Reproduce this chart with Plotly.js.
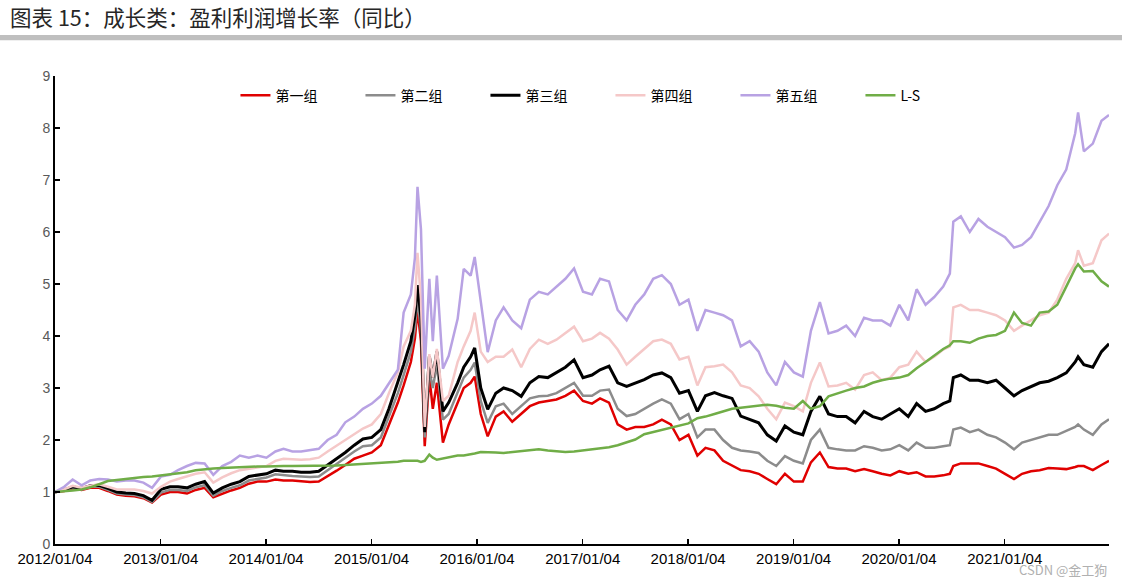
<!DOCTYPE html>
<html>
<head>
<meta charset="utf-8">
<script src="https://cdn.plot.ly/plotly-3.0.1.min.js"></script>
<style>
  body { margin: 0; background: #fff; }
  #grafico { width: 1122px; height: 585px; }
</style>
</head>
<body>
<div id="grafico"></div>
<script>
// fechas (aprox. mensual, más denso en 2015)
const fechas = [
  '2012-01-04','2012-02-05','2012-03-05','2012-04-05','2012-05-05','2012-06-05','2012-07-05','2012-08-05','2012-09-05','2012-10-05','2012-11-05','2012-12-05',
  '2013-01-05','2013-02-05','2013-03-05','2013-04-05','2013-05-05','2013-06-05','2013-07-05','2013-08-05','2013-09-05','2013-10-05','2013-11-05','2013-12-05',
  '2014-01-05','2014-02-05','2014-03-05','2014-04-05','2014-05-05','2014-06-05','2014-07-05','2014-08-05','2014-09-05','2014-10-05','2014-11-05','2014-12-05',
  '2015-01-05','2015-02-05','2015-03-05','2015-04-05','2015-04-25','2015-05-20','2015-06-03','2015-06-12','2015-06-24','2015-07-07','2015-07-23','2015-08-04','2015-08-18','2015-09-08','2015-09-28','2015-10-29','2015-11-19','2015-12-13','2015-12-27',
  '2016-01-17','2016-02-10','2016-03-09','2016-04-05','2016-05-05','2016-06-05','2016-07-05','2016-08-05','2016-09-05','2016-10-05','2016-11-05','2016-12-05',
  '2017-01-05','2017-02-05','2017-03-05','2017-04-05','2017-05-05','2017-06-05','2017-07-05','2017-08-05','2017-09-05','2017-10-05','2017-11-05','2017-12-05',
  '2018-01-05','2018-02-05','2018-03-05','2018-04-05','2018-05-05','2018-06-05','2018-07-05','2018-08-05','2018-09-05','2018-10-05','2018-11-05','2018-12-05',
  '2019-01-05','2019-02-05','2019-03-05','2019-04-05','2019-05-05','2019-06-05','2019-07-05','2019-08-05','2019-09-05','2019-10-05','2019-11-05','2019-12-05',
  '2020-01-05','2020-02-05','2020-03-05','2020-04-05','2020-05-05','2020-06-05','2020-06-28','2020-07-10','2020-08-05','2020-09-05','2020-10-05','2020-11-05','2020-12-05',
  '2021-01-05','2021-02-05','2021-03-05','2021-04-05','2021-05-05','2021-06-05','2021-07-05','2021-08-05','2021-09-05','2021-09-15','2021-10-05','2021-11-05','2021-12-05','2021-12-31'
];

const grupo1 = [
  1.0,1.02,1.07,1.04,1.08,1.08,1.02,0.95,0.93,0.92,0.88,0.80,
  0.95,1.0,1.0,0.97,1.04,1.08,0.9,0.97,1.03,1.08,1.16,1.2,
  1.2,1.24,1.22,1.22,1.2,1.19,1.2,1.3,1.41,1.52,1.64,1.7,
  1.76,1.9,2.3,2.72,3.05,3.5,3.95,4.5,3.9,1.88,3.22,2.6,3.1,1.95,2.3,2.72,3.0,3.1,3.22,
  2.5,2.07,2.45,2.55,2.35,2.5,2.65,2.72,2.75,2.78,2.85,2.95,
  2.75,2.7,2.8,2.72,2.3,2.2,2.25,2.25,2.3,2.39,2.3,2.0,
  2.1,1.7,1.85,1.8,1.6,1.5,1.42,1.4,1.35,1.25,1.15,1.35,
  1.2,1.2,1.57,1.76,1.48,1.45,1.45,1.4,1.44,1.4,1.35,1.32,
  1.4,1.35,1.38,1.3,1.3,1.32,1.35,1.5,1.55,1.55,1.55,1.5,1.45,
  1.35,1.25,1.35,1.4,1.42,1.46,1.45,1.44,1.48,1.5,1.5,1.42,1.52,1.6
];

const grupo2 = [
  1.0,1.03,1.08,1.05,1.1,1.1,1.04,0.97,0.95,0.94,0.9,0.81,
  0.99,1.04,1.04,1.02,1.09,1.13,0.93,1.02,1.08,1.13,1.22,1.25,
  1.28,1.34,1.32,1.31,1.3,1.29,1.3,1.42,1.55,1.66,1.78,1.88,
  1.9,2.05,2.45,2.9,3.25,3.7,4.15,4.72,4.1,2.05,3.35,3.0,3.45,2.39,2.5,2.9,3.2,3.35,3.49,
  2.75,2.33,2.65,2.7,2.5,2.65,2.8,2.84,2.85,2.9,3.0,3.1,
  2.85,2.85,2.95,2.97,2.6,2.46,2.5,2.6,2.7,2.78,2.7,2.4,
  2.5,2.05,2.2,2.2,2.0,1.85,1.8,1.78,1.75,1.6,1.5,1.69,
  1.6,1.55,2.0,2.2,1.85,1.82,1.8,1.8,1.88,1.85,1.8,1.82,
  1.9,1.8,1.95,1.85,1.85,1.88,1.9,2.2,2.24,2.15,2.2,2.1,2.05,
  1.95,1.82,1.95,2.0,2.05,2.1,2.1,2.17,2.25,2.3,2.2,2.1,2.3,2.4
];

const grupo3 = [
  1.0,1.04,1.1,1.07,1.12,1.13,1.07,1.0,0.98,0.97,0.93,0.84,
  1.05,1.1,1.1,1.08,1.15,1.2,0.98,1.08,1.15,1.2,1.3,1.32,
  1.35,1.42,1.4,1.4,1.38,1.38,1.4,1.52,1.64,1.76,1.9,2.02,
  2.05,2.2,2.6,3.1,3.45,3.9,4.4,4.98,4.35,2.15,3.61,3.2,3.7,2.55,2.72,3.1,3.4,3.6,3.77,
  3.0,2.59,2.9,3.0,2.95,2.84,3.1,3.22,3.2,3.3,3.4,3.54,
  3.2,3.25,3.35,3.42,3.1,3.03,3.1,3.16,3.25,3.29,3.2,2.9,
  2.95,2.55,2.85,2.91,2.85,2.8,2.46,2.4,2.33,2.1,1.98,2.27,
  2.15,2.1,2.55,2.84,2.5,2.45,2.45,2.33,2.55,2.45,2.4,2.5,
  2.6,2.45,2.7,2.55,2.6,2.7,2.75,3.2,3.25,3.15,3.15,3.1,3.15,
  3.0,2.85,2.95,3.03,3.1,3.13,3.2,3.29,3.5,3.6,3.45,3.4,3.7,3.85
];

const grupo4 = [
  1.0,1.05,1.12,1.08,1.12,1.15,1.1,1.05,1.05,1.05,1.02,0.97,
  1.1,1.2,1.25,1.3,1.35,1.38,1.18,1.28,1.36,1.42,1.45,1.48,
  1.5,1.6,1.64,1.63,1.62,1.63,1.66,1.78,1.89,2.0,2.12,2.22,
  2.3,2.5,2.9,3.3,3.8,4.1,4.6,5.6,4.7,2.25,3.65,3.2,3.75,2.75,2.85,3.5,3.8,4.1,4.45,
  3.7,3.5,3.6,3.6,3.74,3.4,3.75,3.93,3.85,3.93,4.05,4.18,
  3.9,3.95,4.06,3.95,3.74,3.45,3.6,3.75,3.9,3.93,3.85,3.55,
  3.6,3.05,3.4,3.42,3.45,3.3,3.05,3.0,2.84,2.6,2.4,2.72,
  2.65,2.55,3.1,3.49,3.03,3.05,3.1,2.97,3.25,3.3,3.15,3.2,
  3.4,3.45,3.7,3.5,3.6,3.74,3.8,4.55,4.6,4.5,4.5,4.45,4.4,
  4.3,4.1,4.2,4.3,4.4,4.45,4.7,5.1,5.4,5.65,5.35,5.4,5.84,5.97
];

const grupo5 = [
  1.0,1.1,1.24,1.13,1.22,1.25,1.24,1.2,1.22,1.22,1.18,1.08,
  1.3,1.33,1.42,1.5,1.56,1.55,1.33,1.5,1.58,1.7,1.66,1.7,
  1.66,1.78,1.83,1.78,1.78,1.8,1.83,2.0,2.1,2.34,2.45,2.6,
  2.7,2.85,3.1,3.35,4.45,4.8,5.5,6.87,6.05,3.37,5.1,3.9,5.16,3.37,3.62,4.33,5.29,5.16,5.52,
  4.65,3.69,4.3,4.55,4.3,4.15,4.7,4.85,4.8,4.95,5.1,5.3,
  4.85,4.8,5.1,5.05,4.5,4.3,4.6,4.8,5.1,5.17,5.0,4.6,
  4.7,4.1,4.5,4.45,4.4,4.3,3.8,3.9,3.7,3.3,3.05,3.5,
  3.3,3.22,4.1,4.65,4.05,4.1,4.2,4.0,4.35,4.3,4.3,4.2,
  4.6,4.3,4.9,4.6,4.75,4.95,5.2,6.2,6.3,6.0,6.25,6.1,6.0,
  5.9,5.7,5.75,5.9,6.2,6.5,6.9,7.2,7.9,8.3,7.55,7.7,8.14,8.25
];

const largoCorto = [
  1.0,1.01,1.03,1.05,1.09,1.15,1.21,1.23,1.25,1.28,1.29,1.3,
  1.32,1.34,1.36,1.38,1.42,1.44,1.45,1.46,1.47,1.48,1.48,1.49,
  1.49,1.5,1.5,1.5,1.5,1.5,1.5,1.5,1.51,1.52,1.53,1.54,
  1.55,1.57,1.58,1.58,1.6,1.6,1.6,1.6,1.58,1.6,1.72,1.66,1.62,1.64,1.66,1.7,1.7,1.72,1.74,
  1.77,1.77,1.76,1.75,1.77,1.78,1.8,1.82,1.8,1.78,1.77,1.78,
  1.8,1.82,1.84,1.86,1.9,1.95,2.01,2.11,2.15,2.2,2.24,2.28,
  2.32,2.42,2.45,2.5,2.55,2.6,2.62,2.64,2.66,2.68,2.66,2.62,
  2.6,2.75,2.6,2.65,2.84,2.9,2.95,3.0,3.03,3.1,3.15,3.18,
  3.2,3.25,3.38,3.5,3.62,3.75,3.82,3.9,3.9,3.87,3.95,4.0,4.02,
  4.1,4.45,4.25,4.2,4.45,4.47,4.6,4.95,5.3,5.38,5.24,5.25,5.05,4.95
];

const nombres = ['第一组', '第二组', '第三组', '第四组', '第五组', 'L-S'];
const colores = ['#e00000', '#8c8c8c', '#000000', '#f5c8c8', '#b8a2e3', '#70ad47'];
const anchos = [2.5, 2.5, 3, 2.5, 2.5, 2.5];
const series = [grupo1, grupo2, grupo3, grupo4, grupo5, largoCorto];

const ticksX = ['2012-01-04','2013-01-04','2014-01-04','2015-01-04','2016-01-04','2017-01-04','2018-01-04','2019-01-04','2020-01-04','2021-01-04'];
const textoTicksX = ['2012/01/04','2013/01/04','2014/01/04','2015/01/04','2016/01/04','2017/01/04','2018/01/04','2019/01/04','2020/01/04','2021/01/04'];

const trazos = series.map((valores, i) => ({
  x: fechas,
  y: valores,
  type: 'scatter',
  mode: 'lines',
  name: nombres[i],
  line: { color: colores[i], width: anchos[i] }
}));

const layout = {
  width: 1122,
  height: 585,
  margin: { l: 55, r: 13, t: 76, b: 41 },
  paper_bgcolor: '#ffffff',
  plot_bgcolor: '#ffffff',
  font: { family: '"Noto Sans CJK SC", "Liberation Sans", sans-serif', color: '#000' },
  title: {
    text: '图表 15：成长类：盈利利润增长率（同比）',
    x: 0.009, xanchor: 'left', xref: 'container',
    y: 0.968, yanchor: 'middle', yref: 'container',
    font: { size: 21.5, color: '#262626', family: '"Noto Sans CJK SC", sans-serif' }
  },
  showlegend: true,
  legend: {
    orientation: 'h',
    x: 0.527, xanchor: 'center',
    y: 0.958, yanchor: 'middle',
    font: { size: 14, color: '#000', family: '"Noto Sans CJK SC", sans-serif' },
    entrywidth: 80, entrywidthmode: 'pixels',
    bgcolor: 'rgba(0,0,0,0)',
    traceorder: 'normal'
  },
  xaxis: {
    type: 'date',
    range: ['2012-01-04', '2021-12-31'],
    tickvals: ticksX,
    ticktext: textoTicksX,
    ticks: 'inside',
    ticklen: 5,
    tickwidth: 1.5,
    tickcolor: '#000',
    showline: true,
    linecolor: '#000',
    linewidth: 2,
    showgrid: false,
    zeroline: false,
    tickfont: { size: 15, color: '#000', family: '"Liberation Sans", Arial, sans-serif' }
  },
  yaxis: {
    range: [0, 9],
    dtick: 1,
    ticks: 'inside',
    ticklen: 5,
    tickwidth: 1.5,
    tickcolor: '#000',
    showline: true,
    linecolor: '#000',
    linewidth: 2,
    showgrid: false,
    zeroline: false,
    tickfont: { size: 14, color: '#595959', family: '"Liberation Sans", Arial, sans-serif' }
  },
  shapes: [{
    type: 'rect', xref: 'paper', yref: 'paper',
    x0: -0.0522, x1: 1.0124, y0: 1.0765, y1: 1.0875,
    fillcolor: '#bfbfbf', line: { width: 0 }
  }],
  annotations: [{
    text: 'CSDN @金工狗',
    xref: 'paper', yref: 'paper',
    x: 1.0, xanchor: 'right',
    y: -0.055, yanchor: 'middle',
    showarrow: false,
    font: { size: 13, color: '#b0b0b0', family: '"Noto Sans CJK SC", sans-serif' }
  }]
};

Plotly.newPlot('grafico', trazos, layout, { displayModeBar: false, staticPlot: true });
</script>
</body>
</html>
